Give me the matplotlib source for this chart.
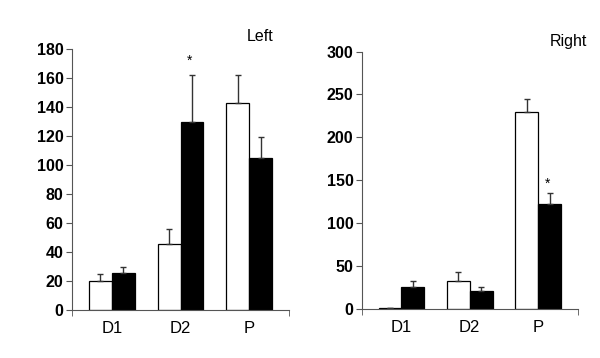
import matplotlib
matplotlib.use('Agg')
import matplotlib.pyplot as plt
import numpy as np

plt.rcParams['font.family'] = ['Liberation Sans', 'DejaVu Sans']

categories = ['D1', 'D2', 'P']

# left panel
left_white = [20, 45.5, 143]
left_white_err = [5, 10.5, 19]
left_black = [25.5, 130, 105]
left_black_err = [4.5, 32, 14.5]
left_star = [(1, 172)]  # (category index, y) for the black bar

# right panel
right_white = [1, 33, 230]
right_white_err = [0, 10, 15]
right_black = [26, 20.5, 122.5]
right_black_err = [6, 5.5, 12.5]
right_star = [(2, 146)]

left_yticks = np.arange(0, 181, 20)
right_yticks = np.arange(0, 301, 50)

fig = plt.figure(figsize=(6, 3.58), dpi=100)
ax1 = fig.add_axes([0.12, 0.134, 0.3617, 0.728])
ax2 = fig.add_axes([0.603, 0.137, 0.36, 0.719])

w = 0.333
axis_col = '#555555'


def draw(ax, white, werr, black, berr, stars, yticks, ymax):
    x = np.arange(len(categories))
    ekw = dict(ecolor='#333333', elinewidth=1, capsize=2.5, capthick=1)
    ax.bar(x - w / 2, white, w, color='white', edgecolor='black', linewidth=0.9,
           yerr=[np.zeros(len(werr)), werr], error_kw=ekw, zorder=2)
    ax.bar(x + w / 2, black, w, color='black', edgecolor='black', linewidth=0.9,
           yerr=[np.zeros(len(berr)), berr], error_kw=ekw, zorder=2)
    for i, yv in stars:
        ax.text(x[i] + w / 2 - 0.03, yv, '*', ha='center', va='center', fontsize=10)
    ax.set_xlim(-0.58, 2.58)
    ax.set_ylim(0, ymax)
    ax.set_yticks(yticks)
    ax.set_yticklabels([str(v) for v in yticks], fontsize=11.5, fontweight='bold')
    ax.set_xticks(x)
    ax.set_xticklabels(categories, fontsize=12)
    ax.tick_params(axis='x', length=0, pad=8)
    ax.set_xticks([-0.58, 2.58], minor=True)
    ax.tick_params(axis='x', which='minor', length=4, direction='out', color=axis_col)
    ax.tick_params(axis='y', length=4.5, width=0.8, pad=1.5, color=axis_col)
    for s in ['top', 'right']:
        ax.spines[s].set_visible(False)
    for s in ['left', 'bottom']:
        ax.spines[s].set_color(axis_col)
        ax.spines[s].set_linewidth(0.8)


draw(ax1, left_white, left_white_err, left_black, left_black_err, left_star, left_yticks, 180)
draw(ax2, right_white, right_white_err, right_black, right_black_err, right_star, right_yticks, 300)

fig.text(0.433, 0.897, 'Left', ha='center', va='center', fontsize=11.5)
fig.text(0.947, 0.883, 'Right', ha='center', va='center', fontsize=11.5)

fig.savefig('out.png', dpi=100, facecolor='white')
